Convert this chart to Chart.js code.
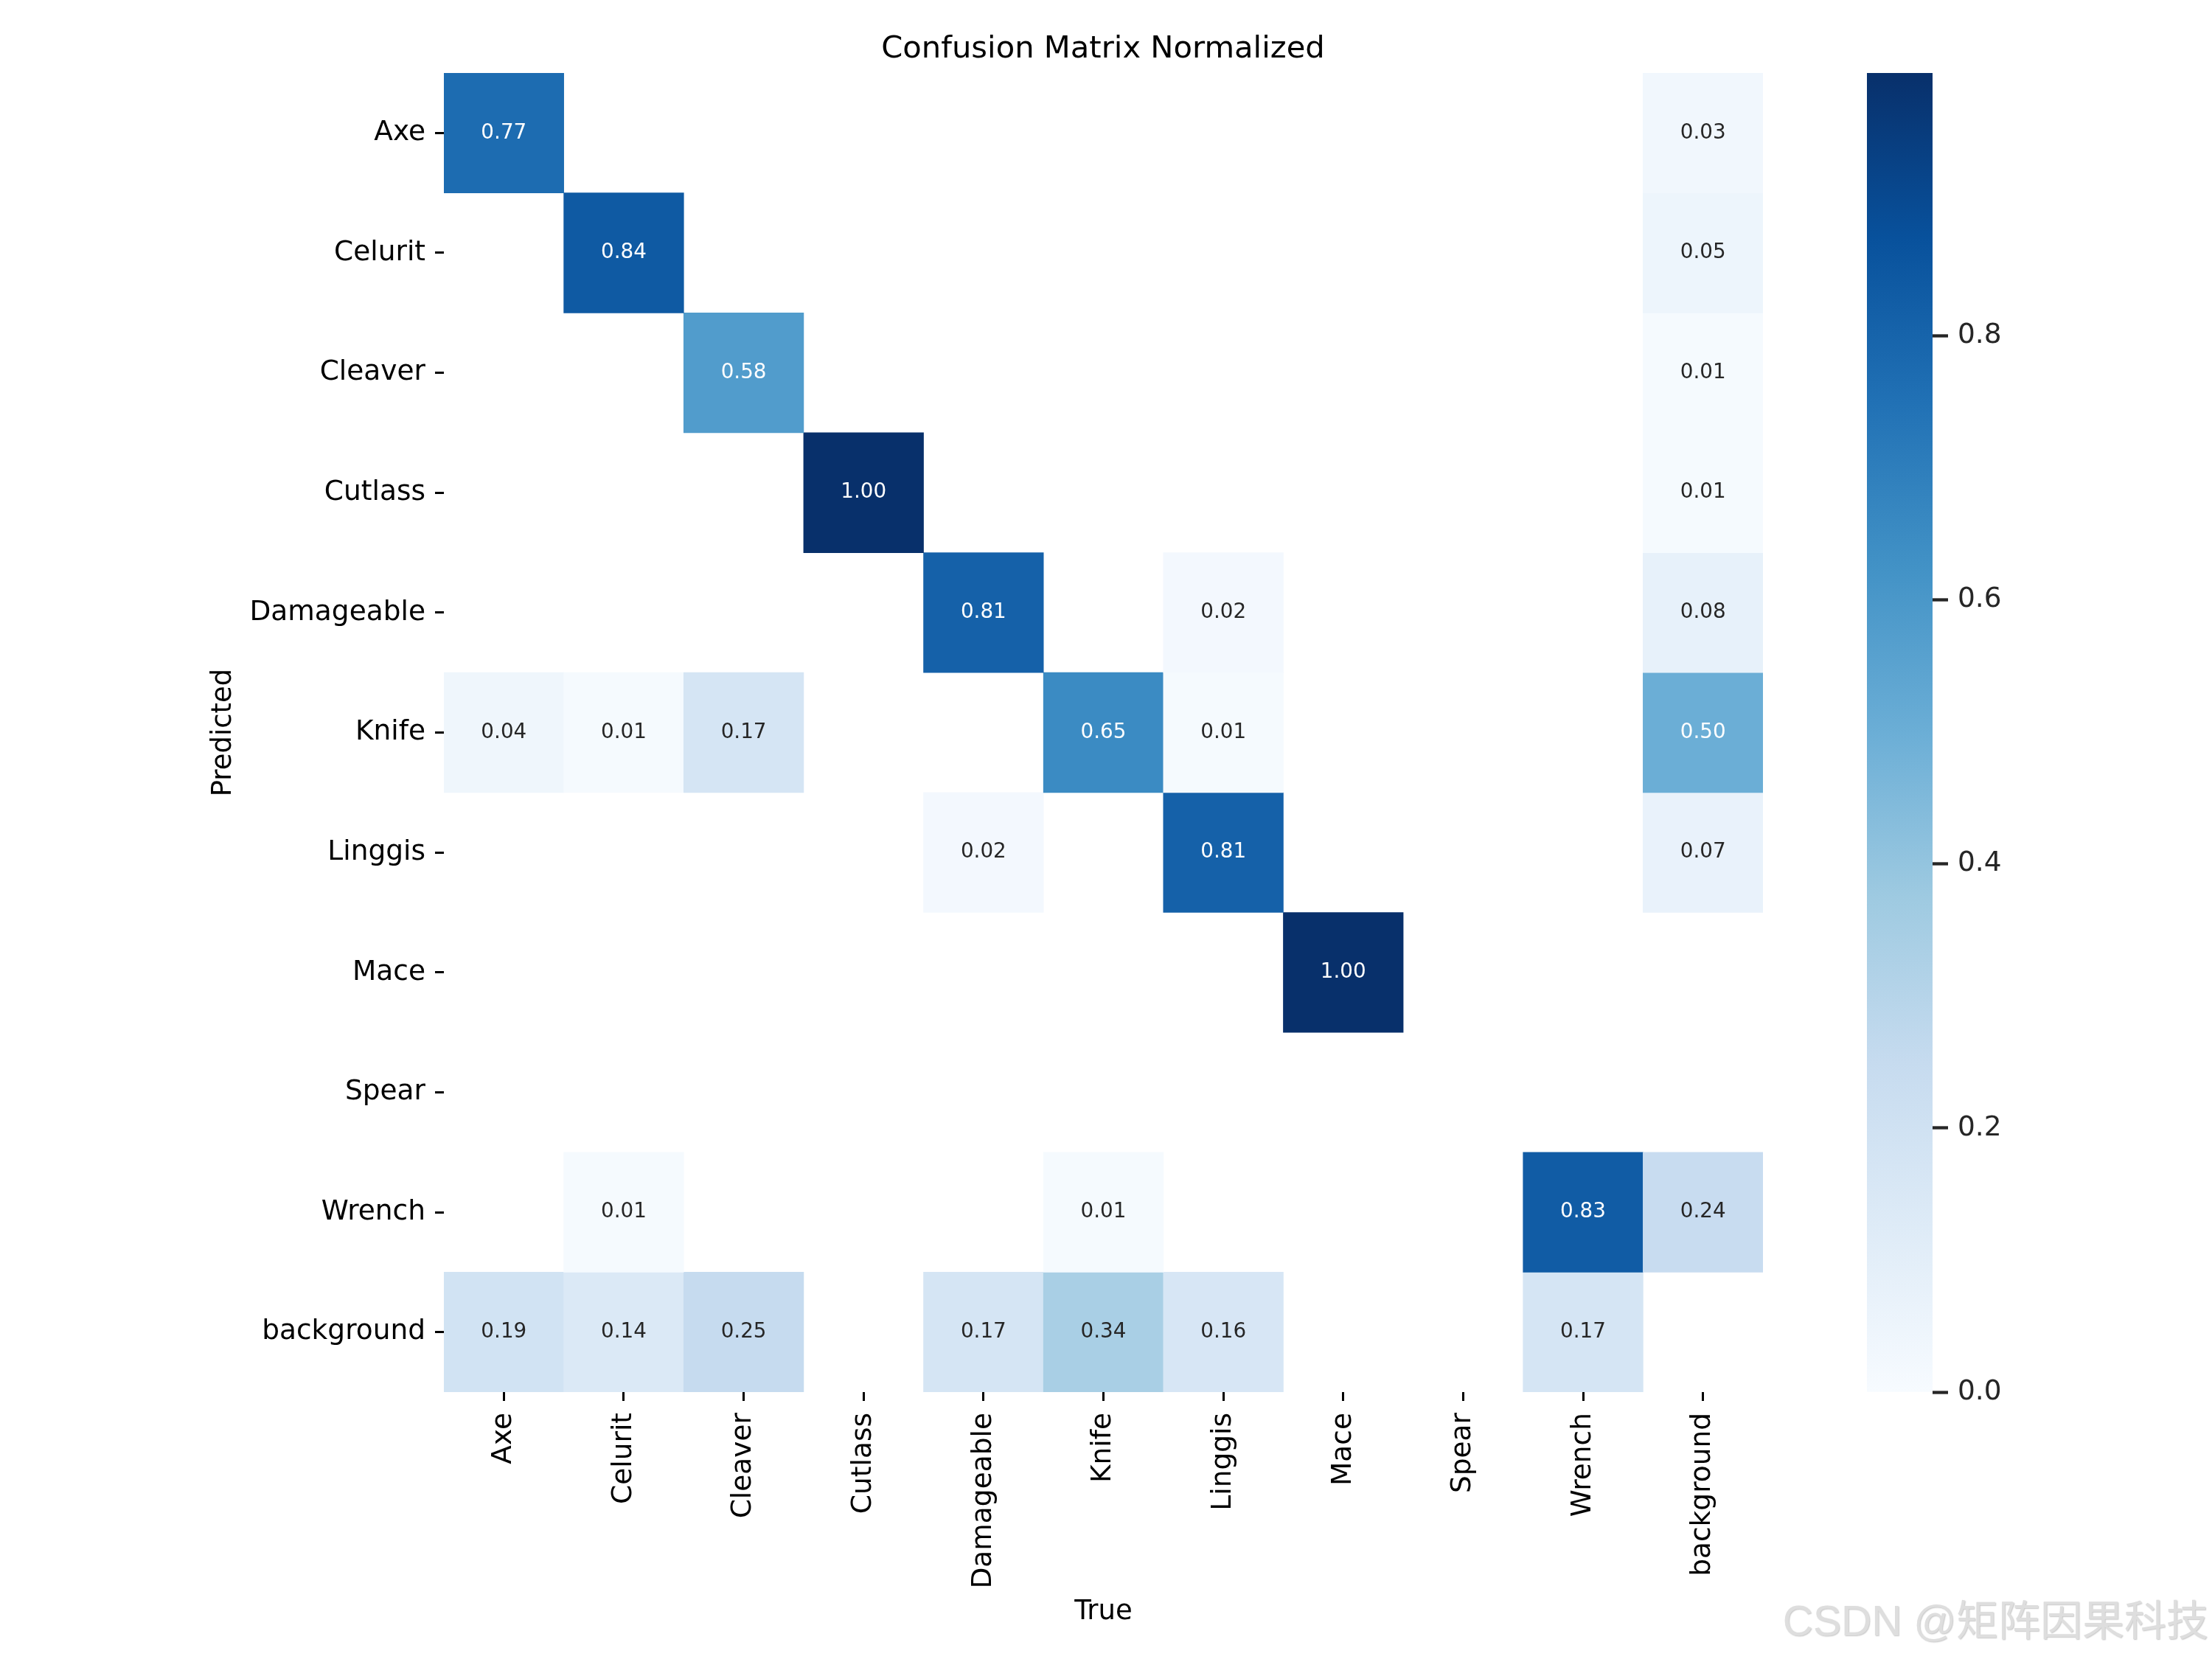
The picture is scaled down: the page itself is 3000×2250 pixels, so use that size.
<!DOCTYPE html>
<html>
<head>
<meta charset="utf-8">
<script src="https://cdn.jsdelivr.net/npm/chart.js@4.4.1/dist/chart.umd.min.js"></script>
<style>
  html, body { margin: 0; padding: 0; background: #ffffff; }
  #wrap { position: relative; width: 3000px; height: 2250px; background: #ffffff; }
  #main { position: absolute; left: 0; top: 0; }
  #cbar { position: absolute; left: 2400px; top: 0; pointer-events: none; }
</style>
</head>
<body>
<div id="wrap">
  <canvas id="main" width="3000" height="2250"></canvas>
  <canvas id="cbar" width="600" height="2250"></canvas>
</div>
<script>
// ---------------- data ----------------
const trueLabels = ['Axe', 'Celurit', 'Cleaver', 'Cutlass', 'Damageable', 'Knife', 'Linggis', 'Mace', 'Spear', 'Wrench', 'background'];
const predLabels = ['Axe', 'Celurit', 'Cleaver', 'Cutlass', 'Damageable', 'Knife', 'Linggis', 'Mace', 'Spear', 'Wrench', 'background'];

const predAxe        = [0.77, null, null, null, null, null, null, null, null, null, 0.03];
const predCelurit    = [null, 0.84, null, null, null, null, null, null, null, null, 0.05];
const predCleaver    = [null, null, 0.58, null, null, null, null, null, null, null, 0.01];
const predCutlass    = [null, null, null, 1.00, null, null, null, null, null, null, 0.01];
const predDamageable = [null, null, null, null, 0.81, null, 0.02, null, null, null, 0.08];
const predKnife      = [0.04, 0.01, 0.17, null, null, 0.65, 0.01, null, null, null, 0.50];
const predLinggis    = [null, null, null, null, 0.02, null, 0.81, null, null, null, 0.07];
const predMace       = [null, null, null, null, null, null, null, 1.00, null, null, null];
const predSpear      = [null, null, null, null, null, null, null, null, null, null, null];
const predWrench     = [null, 0.01, null, null, null, 0.01, null, null, null, 0.83, 0.24];
const predBackground = [0.19, 0.14, 0.25, null, 0.17, 0.34, 0.16, null, null, 0.17, null];

const colorbarTicks = [0.0, 0.2, 0.4, 0.6, 0.8];
const colorMin = 0.0;
const colorMax = 0.999;

const title = 'Confusion Matrix Normalized';
const xTitle = 'True';
const yTitle = 'Predicted';
const watermark = 'CSDN @矩阵因果科技';

const matrixRows = [predAxe, predCelurit, predCleaver, predCutlass, predDamageable, predKnife,
                    predLinggis, predMace, predSpear, predWrench, predBackground];

// ---------------- colormap (matplotlib "Blues") ----------------
const BLUES = [[247,251,255],[222,235,247],[198,219,239],[158,202,225],[107,174,214],
               [66,146,198],[33,113,181],[8,81,156],[8,48,107]];
function bluesRGB(t) {
  t = Math.max(0, Math.min(1, t));
  const s = t * 8;
  const i = Math.min(7, Math.floor(s));
  const f = s - i;
  const a = BLUES[i], b = BLUES[i + 1];
  return [0,1,2].map(k => Math.round(a[k] + (b[k] - a[k]) * f));
}
function valueColor(v) {
  const c = bluesRGB((v - colorMin) / (colorMax - colorMin));
  return `rgb(${c[0]},${c[1]},${c[2]})`;
}
function textColor(v) {
  const c = bluesRGB((v - colorMin) / (colorMax - colorMin)).map(x => {
    x = x / 255;
    return x <= 0.03928 ? x / 12.92 : Math.pow((x + 0.055) / 1.055, 2.4);
  });
  const lum = 0.2126 * c[0] + 0.7152 * c[1] + 0.0722 * c[2];
  return lum > 0.408 ? '#262626' : '#ffffff';
}

const FONT = '"DejaVu Sans", "Liberation Sans", sans-serif';

// ---------------- datasets (one per predicted row, floating bars) ----------------
const datasets = matrixRows.map((row, r) => ({
  label: predLabels[r],
  values: row,
  data: row.map(v => (v == null ? null : [r, r + 1])),
  backgroundColor: row.map(v => (v == null ? 'rgba(0,0,0,0)' : valueColor(v))),
  borderWidth: 0,
  barPercentage: 1.0,
  categoryPercentage: 1.0,
  grouped: false,
  yAxisID: 'y'
}));

const annotPlugin = {
  id: 'annot',
  afterDatasetsDraw(chart) {
    const ctx = chart.ctx;
    ctx.save();
    ctx.font = `27.8px ${FONT}`;
    ctx.textAlign = 'center';
    ctx.textBaseline = 'middle';
    chart.data.datasets.forEach((ds, di) => {
      const meta = chart.getDatasetMeta(di);
      meta.data.forEach((el, ci) => {
        const v = ds.values[ci];
        if (v == null || el == null) return;
        ctx.fillStyle = textColor(v);
        ctx.fillText(v.toFixed(2), el.x, (el.y + el.base) / 2);
      });
    });
    ctx.restore();
  }
};

const watermarkPlugin = {
  id: 'wm',
  afterDraw(chart) {
    const ctx = chart.ctx;
    ctx.save();
    ctx.font = '57px "Liberation Sans", "Noto Sans CJK SC", sans-serif';
    ctx.textAlign = 'right';
    ctx.textBaseline = 'alphabetic';
    ctx.shadowColor = 'rgba(0,0,0,0.22)';
    ctx.shadowOffsetX = 1;
    ctx.shadowOffsetY = 1;
    ctx.shadowBlur = 1.5;
    ctx.fillStyle = '#dedede';
    ctx.fillText(watermark, 2995, 2218);
    ctx.restore();
  }
};

new Chart(document.getElementById('main'), {
  type: 'bar',
  data: { labels: trueLabels, datasets },
  options: {
    responsive: false,
    animation: false,
    events: [],
    layout: { padding: { left: 0, right: 8, top: 0, bottom: 0 } },
    plugins: {
      legend: { display: false },
      tooltip: { enabled: false },
      title: {
        display: true,
        text: title,
        color: '#000000',
        font: { family: FONT, size: 41.7, weight: 'normal', lineHeight: 1.2 },
        padding: { top: 42, bottom: 7 }
      }
    },
    scales: {
      x: {
        type: 'category',
        position: 'bottom',
        offset: true,
        grid: { display: true, offset: false, drawOnChartArea: false, drawTicks: true,
                tickLength: 12, tickWidth: 3, tickColor: '#000000' },
        border: { display: false },
        ticks: { color: '#000000', font: { family: FONT, size: 37.5 }, minRotation: 90, maxRotation: 90,
                 autoSkip: false, padding: 16 },
        title: { display: true, text: xTitle, color: '#000000',
                 font: { family: FONT, size: 37, lineHeight: 1.2 }, padding: { top: 0, bottom: 41 } },
        afterFit(s) { s.height = 362; }
      },
      y: {
        type: 'linear',
        position: 'left',
        min: 0,
        max: predLabels.length,
        reverse: true,
        grid: { display: true, drawOnChartArea: false, drawTicks: true,
                tickLength: 12, tickWidth: 3, tickColor: '#000000' },
        border: { display: false },
        afterBuildTicks(s) { s.ticks = predLabels.map((_, i) => ({ value: i + 0.5 })); },
        ticks: { color: '#000000', font: { family: FONT, size: 37.5 }, autoSkip: false, padding: 13,
                 callback: (value, index) => predLabels[index] },
        title: { display: true, text: yTitle, color: '#000000',
                 font: { family: FONT, size: 37, lineHeight: 1.2 }, padding: { top: 281, bottom: 0 } },
        afterFit(s) { s.width = 602; }
      },
      ypad: {
        type: 'linear',
        position: 'right',
        display: true,
        grid: { display: false, drawTicks: false },
        border: { display: false },
        ticks: { display: false },
        afterFit(s) { s.width = 601; }
      }
    }
  },
  plugins: [annotPlugin, watermarkPlugin]
});

// ---------------- colorbar ----------------
const BLUES_LAST = 'rgb(8,48,107)';
function cbGradient(context) {
  const chart = context.chart;
  const area = chart.chartArea;
  if (!area) return BLUES_LAST;
  const ys = chart.scales.y;
  const y0 = ys.getPixelForValue(colorMin);
  const y1 = ys.getPixelForValue(colorMax);
  const g = chart.ctx.createLinearGradient(0, y0, 0, y1);
  BLUES.forEach((c, i) => g.addColorStop(i / 8, `rgb(${c[0]},${c[1]},${c[2]})`));
  return g;
}

new Chart(document.getElementById('cbar'), {
  type: 'bar',
  data: {
    labels: ['scale'],
    datasets: [{
      data: [[colorMin, colorMax]],
      backgroundColor: cbGradient,
      borderWidth: 0,
      barPercentage: 1.0,
      categoryPercentage: 1.0
    }]
  },
  options: {
    responsive: false,
    animation: false,
    events: [],
    layout: { padding: { left: 132, right: 0, top: 99, bottom: 362 } },
    plugins: { legend: { display: false }, tooltip: { enabled: false }, title: { display: false } },
    scales: {
      x: { display: false, offset: true },
      y: {
        type: 'linear',
        position: 'right',
        min: colorMin,
        max: colorMax,
        grid: { display: true, drawOnChartArea: false, drawTicks: true,
                tickLength: 21, tickWidth: 4.3, tickColor: '#262626' },
        border: { display: false },
        afterBuildTicks(s) { s.ticks = colorbarTicks.map(v => ({ value: v })); },
        ticks: { color: '#262626', font: { family: FONT, size: 37.5 }, padding: 13, autoSkip: false,
                 callback: (v) => Number(v).toFixed(1) },
        afterFit(s) { s.width = 379; }
      }
    }
  }
});
</script>
</body>
</html>
